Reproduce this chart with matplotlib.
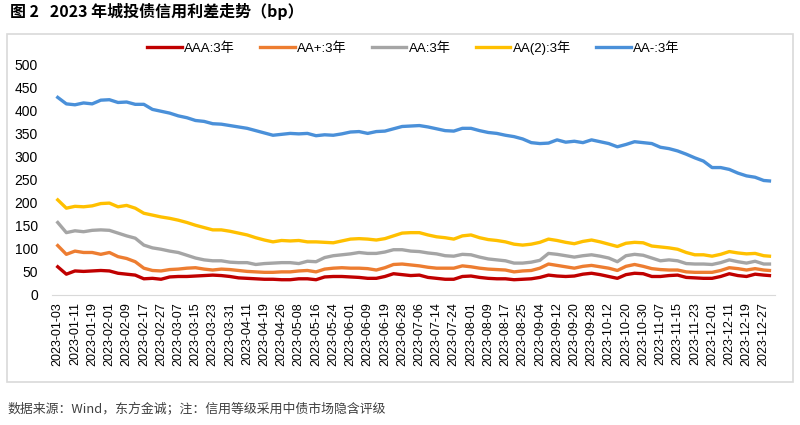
import numpy as np
import matplotlib
matplotlib.use("Agg")
from matplotlib import pyplot as plt
from matplotlib.patches import Rectangle

plt.rcParams['font.family'] = ['Liberation Sans', 'Noto Sans CJK SC', 'DejaVu Sans']

# tick labels (every 6 trading days)
tick_labels = [
    "2023-01-03", "2023-01-11", "2023-01-19", "2023-02-01", "2023-02-09",
    "2023-02-17", "2023-02-27", "2023-03-07", "2023-03-15", "2023-03-23",
    "2023-03-31", "2023-04-11", "2023-04-19", "2023-04-26", "2023-05-08",
    "2023-05-16", "2023-05-24", "2023-06-01", "2023-06-09", "2023-06-19",
    "2023-06-28", "2023-07-06", "2023-07-14", "2023-07-24", "2023-08-01",
    "2023-08-09", "2023-08-17", "2023-08-25", "2023-09-04", "2023-09-12",
    "2023-09-20", "2023-09-28", "2023-10-12", "2023-10-20", "2023-10-30",
    "2023-11-07", "2023-11-15", "2023-11-23", "2023-12-01", "2023-12-11",
    "2023-12-19", "2023-12-27",
]

# trading-day index of each sample (every 3 trading days, plus last day)
days = list(range(0, 247, 3)) + [248]

aaa = [61, 45, 52, 51, 52, 53, 52, 47, 45, 43, 35, 36, 34, 39, 40, 40, 41, 42,
       43, 42, 40, 37, 36, 35, 34, 34, 33, 33, 35, 35, 33, 39, 40, 40, 39, 38,
       36, 36, 40, 46, 44, 42, 43, 38, 36, 34, 34, 40, 41, 38, 36, 35, 35, 33,
       34, 35, 38, 43, 41, 40, 41, 45, 47, 44, 40, 36, 44, 47, 46, 40, 40, 42,
       43, 38, 37, 36, 36, 40, 46, 42, 40, 45, 43, 42]
aa_plus = [107, 88, 95, 92, 92, 88, 92, 83, 79, 72, 58, 53, 52, 55, 56, 58, 59,
           56, 54, 56, 55, 53, 51, 50, 49, 49, 50, 50, 52, 53, 50, 56, 58, 59,
           58, 58, 57, 54, 59, 66, 67, 65, 63, 60, 58, 58, 58, 63, 61, 58, 56,
           55, 54, 50, 52, 53, 58, 67, 64, 61, 58, 62, 64, 61, 58, 53, 62, 66,
           62, 57, 55, 54, 54, 50, 49, 49, 49, 53, 59, 57, 54, 57, 54, 53]
aa = [157, 135, 139, 137, 140, 141, 140, 134, 128, 123, 108, 102, 99, 95, 92,
      86, 80, 76, 74, 74, 71, 70, 70, 66, 68, 69, 70, 70, 68, 73, 72, 81, 85,
      87, 89, 92, 90, 90, 93, 98, 98, 95, 94, 91, 89, 85, 84, 88, 87, 82, 78,
      76, 74, 69, 69, 71, 75, 90, 88, 85, 82, 85, 87, 84, 80, 72, 85, 88, 86,
      80, 74, 76, 74, 68, 67, 67, 66, 70, 76, 72, 69, 73, 67, 67]
aa2 = [206, 188, 192, 191, 193, 198, 199, 191, 194, 188, 177, 173, 169, 166,
       162, 157, 151, 146, 141, 141, 138, 134, 130, 124, 119, 115, 118, 117,
       118, 115, 115, 114, 113, 117, 121, 122, 121, 119, 122, 128, 134, 135,
       135, 130, 126, 124, 121, 128, 130, 124, 120, 118, 115, 110, 108, 110,
       114, 121, 118, 114, 111, 116, 119, 115, 110, 105, 112, 114, 113, 106,
       104, 102, 99, 92, 87, 87, 84, 88, 94, 91, 89, 90, 85, 84]
aa_minus = [428, 414, 412, 416, 414, 422, 423, 417, 418, 413, 413, 402, 398,
            394, 388, 384, 378, 376, 371, 370, 367, 364, 361, 356, 351, 346,
            348, 350, 349, 350, 345, 347, 346, 349, 353, 354, 350, 354, 355,
            360, 365, 366, 367, 364, 360, 356, 355, 361, 361, 356, 352, 350,
            346, 343, 338, 330, 328, 329, 336, 331, 333, 330, 336, 332, 328,
            321, 326, 332, 330, 328, 320, 317, 312, 305, 297, 290, 276, 276,
            272, 264, 258, 255, 248, 247]

series = [
    ("AAA:3年", aaa, "#C00000"),
    ("AA+:3年", aa_plus, "#ED7D31"),
    ("AA:3年", aa, "#A5A5A5"),
    ("AA(2):3年", aa2, "#FFC000"),
    ("AA-:3年", aa_minus, "#4A90D9"),
]

fig = plt.figure(figsize=(8, 4.25), dpi=100)

# light frame around the chart area
fig.patches.append(Rectangle((0.00875, 0.101), 0.9825, 0.819, transform=fig.transFigure,
                             fill=False, edgecolor="#D9D9D9", linewidth=1.2))

ax = fig.add_axes([0.065, 0.306, 0.904, 0.543])
for name, vals, col in series:
    ax.plot(days, vals, color=col, linewidth=2.4, label=name, solid_joinstyle="round")

ax.set_ylim(0, 500)
ax.set_yticks(range(0, 501, 50))
ax.set_xlim(-2, 250)
ax.set_xticks(range(0, 247, 6))
ax.set_xticklabels(tick_labels, rotation=90, fontsize=9)
ax.tick_params(axis="y", labelsize=10, length=0, pad=10)
ax.tick_params(axis="x", length=0, pad=5)
for s in ["top", "right", "left"]:
    ax.spines[s].set_visible(False)
ax.spines["bottom"].set_color("#D9D9D9")

ax.legend(loc="lower center", bbox_to_anchor=(0.5, 0.99), ncol=5, frameon=False,
          fontsize=9.5, handlelength=2.6, columnspacing=1.9, handletextpad=0.2)

fig.text(0.012, 0.972, "图 2   2023 年城投债信用利差走势（bp）", fontsize=11.5,
         fontweight="bold", family=["Noto Sans CJK SC", "DejaVu Sans"], va="center")
fig.text(0.009, 0.035, "数据来源：Wind，东方金诚；注：信用等级采用中债市场隐含评级", fontsize=9.3,
         color="#404040", family=["Noto Sans CJK SC", "DejaVu Sans"], va="center")

fig.savefig("out.png", dpi=100)
